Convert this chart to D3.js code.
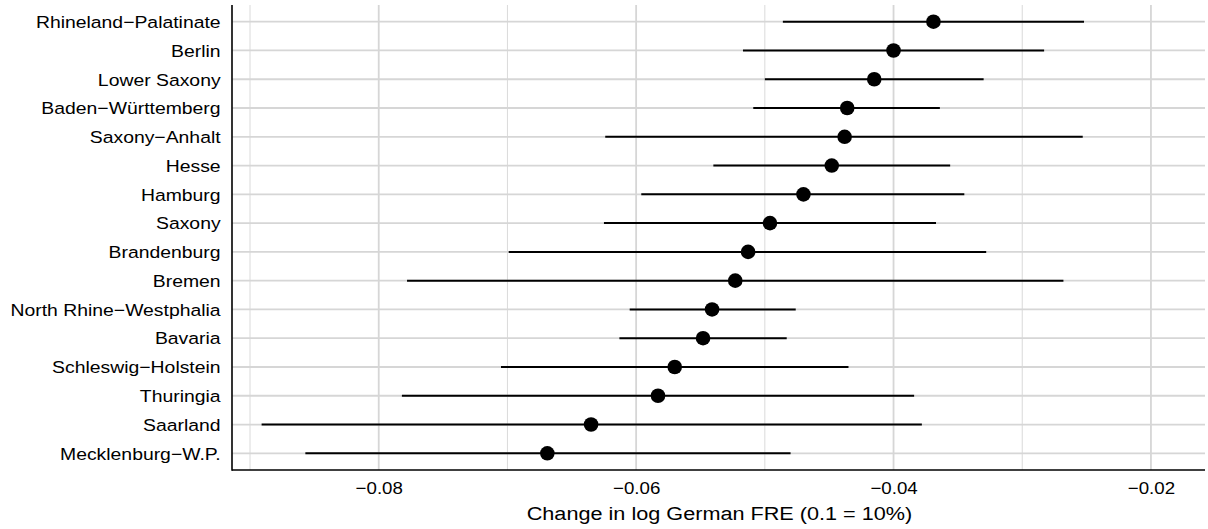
<!DOCTYPE html>
<html>
<head>
<meta charset="utf-8">
<script src="https://cdn.jsdelivr.net/npm/d3@7"></script>
<style>
  body { margin: 0; background: #fff; }
  text { font-family: "Liberation Sans", Arial, sans-serif; fill: #000; }
</style>
</head>
<body>
<script>
// states, top to bottom
const states = ["Rhineland\u2212Palatinate", "Berlin", "Lower Saxony", "Baden\u2212W\u00fcrttemberg",
    "Saxony\u2212Anhalt", "Hesse", "Hamburg", "Saxony", "Brandenburg", "Bremen",
    "North Rhine\u2212Westphalia", "Bavaria", "Schleswig\u2212Holstein", "Thuringia", "Saarland",
    "Mecklenburg\u2212W.P."]

// point estimates and interval ends
const estimate = [-0.0369, -0.0400, -0.0415, -0.0436, -0.0438, -0.0448, -0.0470, -0.0496,
    -0.0513, -0.0523, -0.0541, -0.0548, -0.0570, -0.0583, -0.0635, -0.0669]
const lower = [-0.0486, -0.0517, -0.0500, -0.0509, -0.0624, -0.0540, -0.0596, -0.0625,
    -0.0699, -0.0778, -0.0605, -0.0613, -0.0705, -0.0782, -0.0891, -0.0857]
const upper = [-0.0252, -0.0283, -0.0330, -0.0364, -0.0253, -0.0356, -0.0345, -0.0367,
    -0.0328, -0.0268, -0.0476, -0.0483, -0.0435, -0.0384, -0.0378, -0.0480]

const majorTicks = [-0.08, -0.06, -0.04, -0.02]
const minorTicks = [-0.09, -0.07, -0.05, -0.03]

const measurements = { width: 1208, height: 529 }
const margin = { top: 5, right: 3, bottom: 59, left: 232 }

const svg = d3.select("body").append("svg")
    .attr("width", measurements.width)
    .attr("height", measurements.height)

const x = d3.scaleLinear()
    .domain([-0.0914, -0.0158])
    .range([margin.left, measurements.width - margin.right])

const y = d3.scalePoint()
    .domain(states)
    .range([margin.top, measurements.height - margin.bottom])
    .padding(0.58)

const rows = states.map((s, i) => ({ state: s, est: estimate[i], lo: lower[i], hi: upper[i] }))

// grid
const grid = svg.append("g")
grid.selectAll(".minor").data(minorTicks).enter().append("line")
    .attr("x1", d => x(d)).attr("x2", d => x(d))
    .attr("y1", margin.top).attr("y2", measurements.height - margin.bottom)
    .attr("stroke", "#dadada").attr("stroke-width", 1)
grid.selectAll(".major").data(majorTicks).enter().append("line")
    .attr("x1", d => x(d)).attr("x2", d => x(d))
    .attr("y1", margin.top).attr("y2", measurements.height - margin.bottom)
    .attr("stroke", "#d6d6d6").attr("stroke-width", 1.8)
grid.selectAll(".hline").data(states).enter().append("line")
    .attr("x1", margin.left).attr("x2", measurements.width - margin.right)
    .attr("y1", d => y(d)).attr("y2", d => y(d))
    .attr("stroke", "#d6d6d6").attr("stroke-width", 1.8)

// intervals and points
svg.selectAll(".ci").data(rows).enter().append("line")
    .attr("x1", d => x(d.lo)).attr("x2", d => x(d.hi))
    .attr("y1", d => y(d.state)).attr("y2", d => y(d.state))
    .attr("stroke", "#000").attr("stroke-width", 2)
svg.selectAll(".pt").data(rows).enter().append("circle")
    .attr("cx", d => x(d.est)).attr("cy", d => y(d.state))
    .attr("r", 7.3).attr("fill", "#000")

// axes (text is a bit wider than normal in the original, so stretch it)
const xAxis = svg.append("g")
    .attr("transform", `translate(0,${measurements.height - margin.bottom})`)
    .call(d3.axisBottom(x).tickValues(majorTicks).tickSize(0)
        .tickFormat(d => d3.format(".2f")(d).replace("-", "\u2212")))
xAxis.select(".domain").remove()
xAxis.selectAll("text").attr("y", 0).attr("dy", "1.4em")
    .attr("transform", "scale(1.1,1)")
    .style("font-size", "17px")

const yAxis = svg.append("g")
    .attr("transform", `translate(${margin.left},0)`)
    .call(d3.axisLeft(y).tickSize(0))
yAxis.select(".domain").remove()
yAxis.selectAll("text").attr("x", -10).attr("dy", "0.34em")
    .attr("transform", "scale(1.14,1)")
    .style("font-size", "17px")

// axis lines
svg.append("line")
    .attr("x1", margin.left).attr("x2", margin.left)
    .attr("y1", margin.top).attr("y2", measurements.height - margin.bottom + 0.8)
    .attr("stroke", "#000").attr("stroke-width", 1.6)
svg.append("line")
    .attr("x1", margin.left).attr("x2", measurements.width - margin.right)
    .attr("y1", measurements.height - margin.bottom).attr("y2", measurements.height - margin.bottom)
    .attr("stroke", "#000").attr("stroke-width", 1.6)

svg.append("text")
    .attr("transform", `translate(${(margin.left + measurements.width - margin.right) / 2 + 1},${measurements.height - 9}) scale(1.14,1)`)
    .attr("text-anchor", "middle")
    .style("font-size", "19px")
    .text("Change in log German FRE (0.1 = 10%)")
</script>
</body>
</html>
